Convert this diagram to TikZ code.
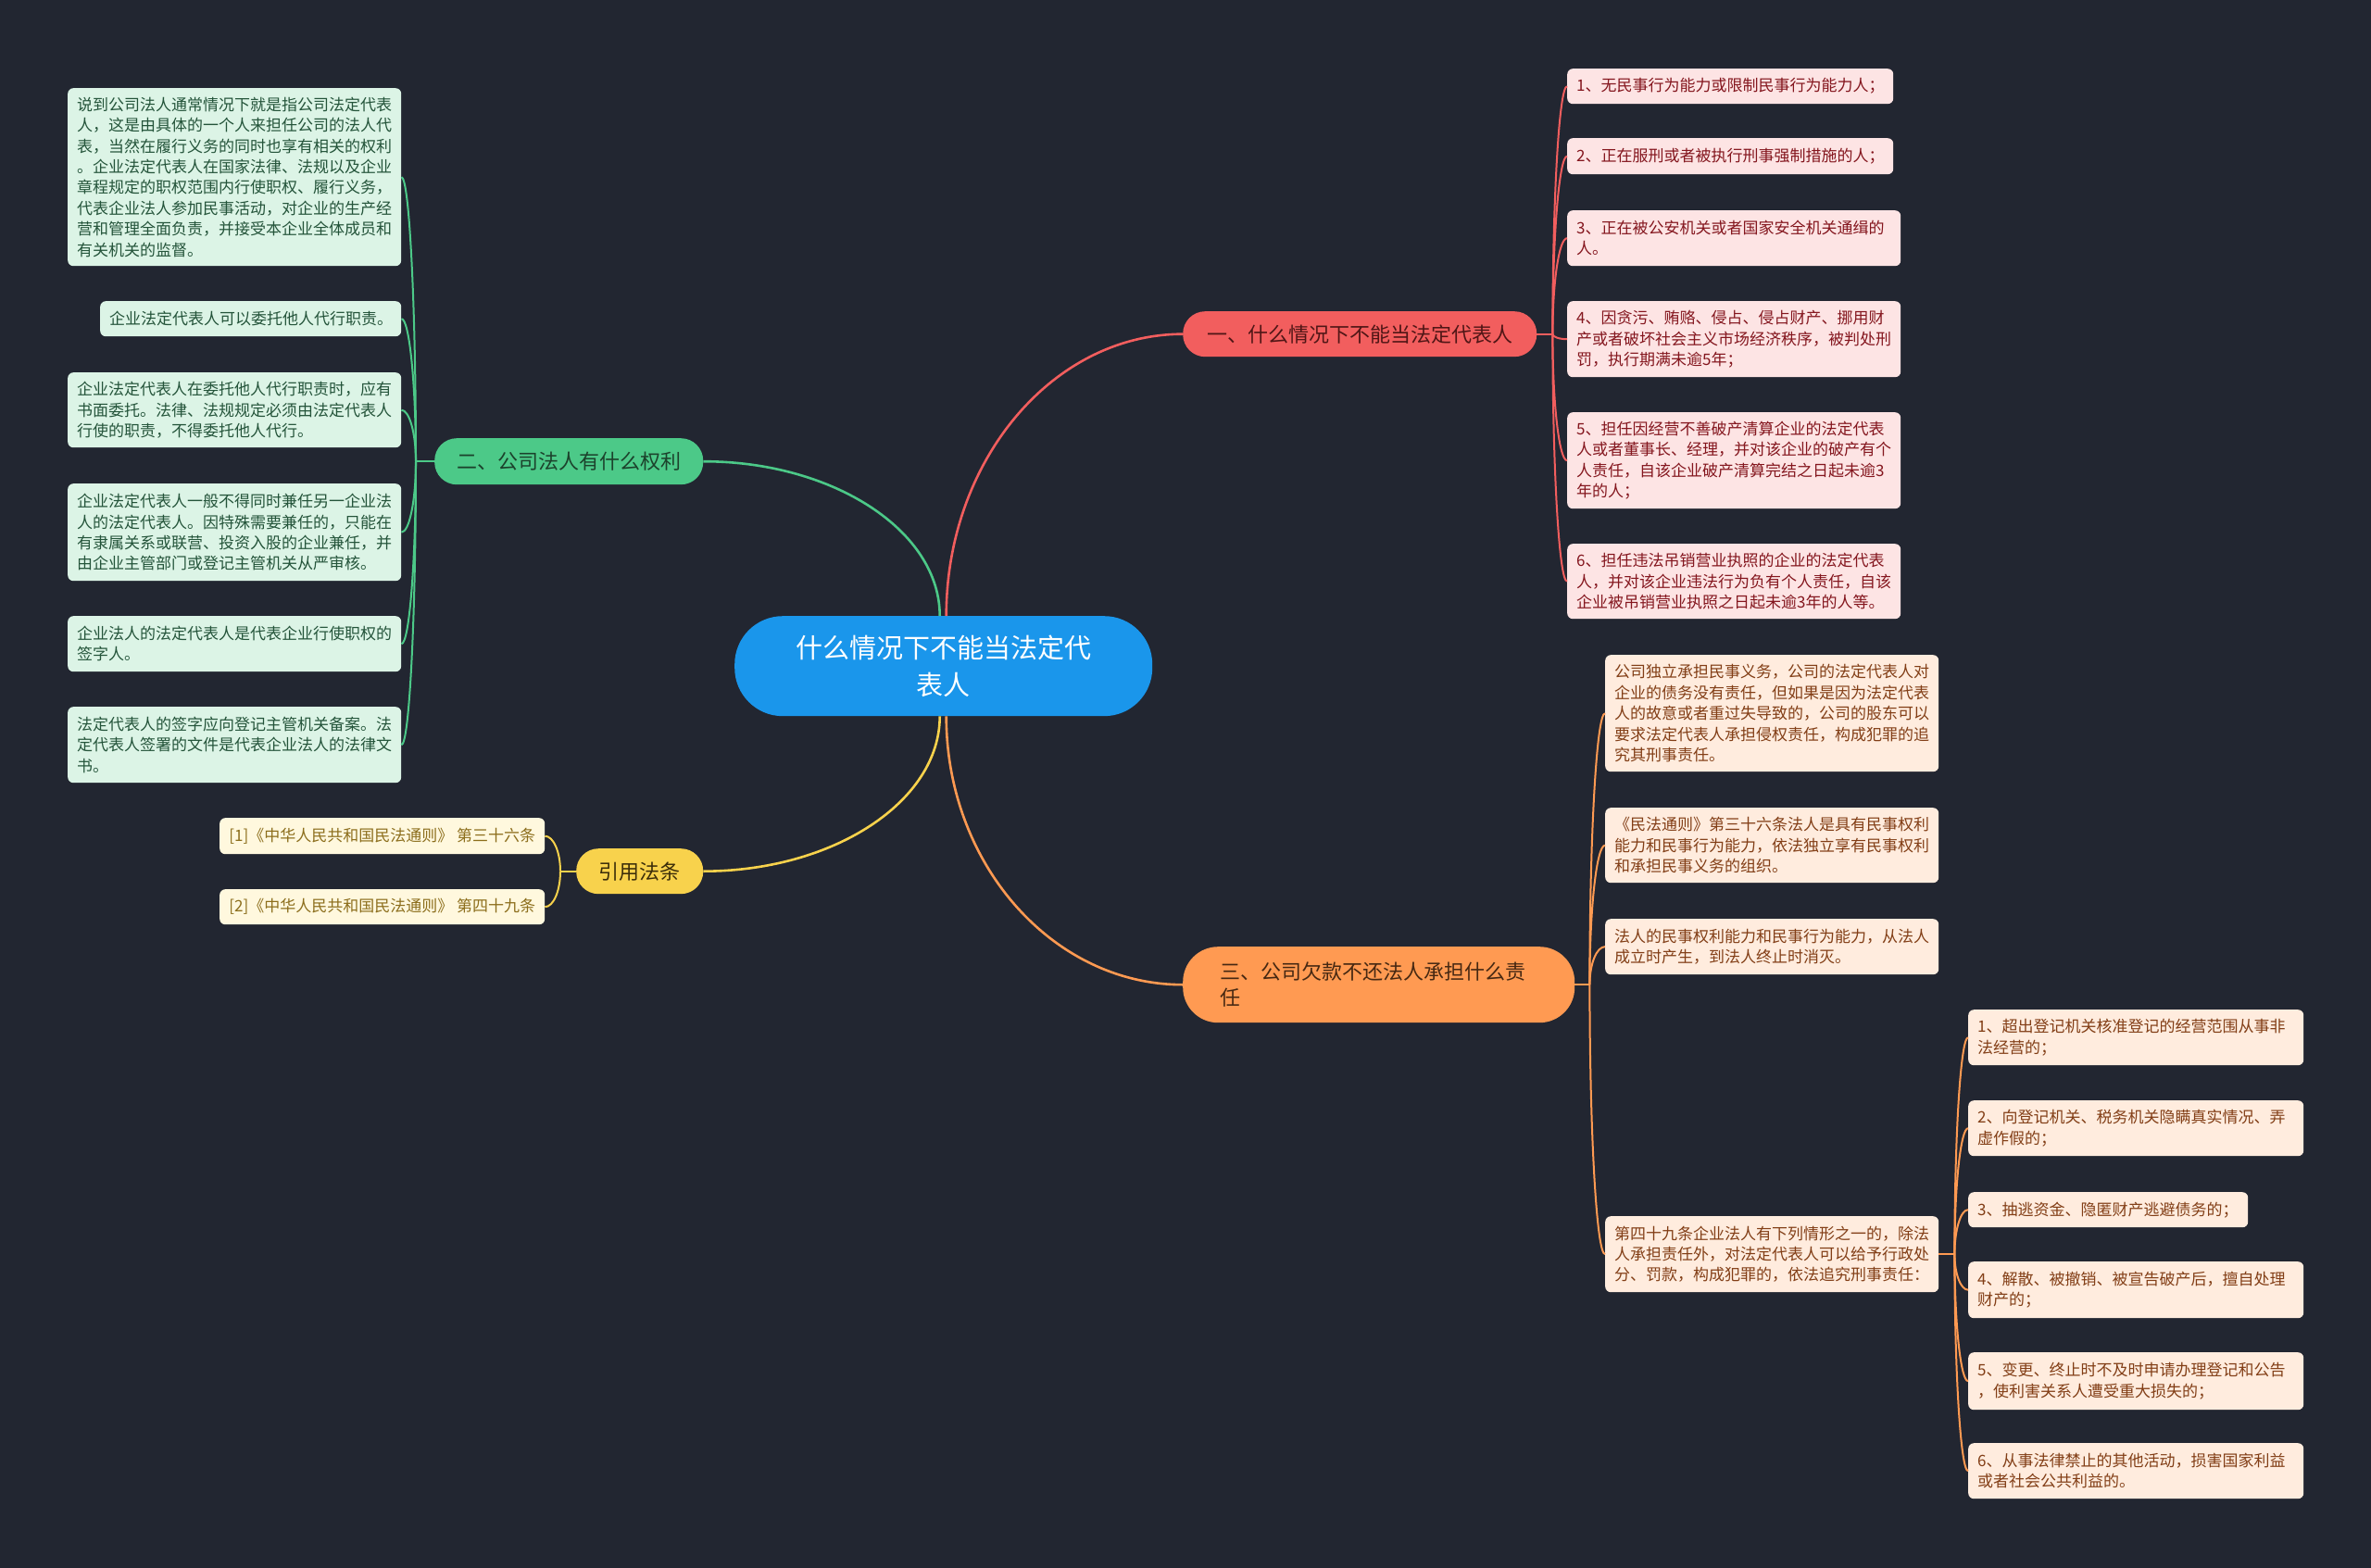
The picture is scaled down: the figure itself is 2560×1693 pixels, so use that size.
\documentclass[tikz,border=0pt]{standalone}
\usepackage{fontspec}
\setmainfont{Noto Sans CJK SC}
\usetikzlibrary{calc}
\definecolor{bg}{RGB}{34,38,49}
\definecolor{cblue}{RGB}{26,150,235}
\definecolor{cgreen}{RGB}{76,201,136}
\definecolor{gfill}{RGB}{220,244,230}
\definecolor{gtext}{RGB}{36,84,58}
\definecolor{cred}{RGB}{242,94,94}
\definecolor{rfill}{RGB}{253,228,228}
\definecolor{rtext}{RGB}{132,22,30}
\definecolor{cyellow}{RGB}{248,210,76}
\definecolor{yfill}{RGB}{255,248,222}
\definecolor{ytext}{RGB}{140,110,28}
\definecolor{corange}{RGB}{255,154,82}
\definecolor{ofill}{RGB}{255,236,222}
\definecolor{otext}{RGB}{130,62,22}
\tikzset{
  leafbox/.style={rounded corners=6pt, anchor=north west, inner xsep=10pt, inner ysep=0pt, align=left, font=\fontsize{17}{22.4}\selectfont},
  gleaf/.style={leafbox, fill=gfill, text=gtext},
  rleaf/.style={leafbox, fill=rfill, text=rtext},
  yleaf/.style={leafbox, fill=yfill, text=ytext},
  oleaf/.style={leafbox, fill=ofill, text=otext},
  branchbox/.style={rounded corners=24pt, anchor=north west, inner sep=0pt, align=center, font=\fontsize{22}{28}\selectfont},
  gline/.style={draw=cgreen, line width=2pt},
  rline/.style={draw=cred, line width=2pt},
  yline/.style={draw=cyellow, line width=2pt},
  oline/.style={draw=corange, line width=2pt},
  arcto/.style={to path={.. controls ($(\tikztostart)!0.55!(\tikztostart |- \tikztotarget)$) and ($(\tikztotarget)!0.55!(\tikztostart |- \tikztotarget)$) .. (\tikztotarget)}},
}
\begin{document}
\begin{tikzpicture}[x=1pt,y=-1pt]
\fill[bg] (0,0) rectangle (2560,1693);
\useasboundingbox (0,0) rectangle (2560,1693);

% center
\node[rounded corners=52pt, fill=cblue, text=white, anchor=north west, minimum width=451pt, minimum height=108pt, inner sep=0pt, align=center, font=\fontsize{29}{40}\selectfont] (c) at (793,665) {什么情况下不能当法定代\\表人};

% branches
\node[branchbox, fill=cred, text={rgb,255:red,80;green,22;blue,22}, minimum width=382pt, minimum height=49pt] (b1) at (1277,336) {一、什么情况下不能当法定代表人};
\node[branchbox, fill=cgreen, text={rgb,255:red,28;green,66;blue,44}, minimum width=290pt, minimum height=50pt] (b2) at (469,473) {二、公司法人有什么权利};
\node[branchbox, fill=cyellow, text={rgb,255:red,60;green,46;blue,10}, minimum width=137pt, minimum height=49pt] (b4) at (622,916) {引用法条};
\node[branchbox, rounded corners=38pt, fill=corange, text={rgb,255:red,70;green,40;blue,18}, minimum width=423pt, minimum height=82pt, text width=343pt, align=left] (b3) at (1277,1022) {三、公司欠款不还法人承担什么责\\任};

% green leaves
\node[gleaf, text width=340pt, minimum height=192pt] (g1) at (73,95) {说到公司法人通常情况下就是指公司法定代表\\人，这是由具体的一个人来担任公司的法人代\\表，当然在履行义务的同时也享有相关的权利\\。企业法定代表人在国家法律、法规以及企业\\章程规定的职权范围内行使职权、履行义务，\\代表企业法人参加民事活动，对企业的生产经\\营和管理全面负责，并接受本企业全体成员和\\有关机关的监督。};
\node[gleaf, text width=305pt, minimum height=38pt] (g2) at (108,325) {企业法定代表人可以委托他人代行职责。};
\node[gleaf, text width=340pt, minimum height=81pt] (g3) at (73,402) {企业法定代表人在委托他人代行职责时，应有\\书面委托。法律、法规规定必须由法定代表人\\行使的职责，不得委托他人代行。};
\node[gleaf, text width=340pt, minimum height=105pt] (g4) at (73,522) {企业法定代表人一般不得同时兼任另一企业法\\人的法定代表人。因特殊需要兼任的，只能在\\有隶属关系或联营、投资入股的企业兼任，并\\由企业主管部门或登记主管机关从严审核。};
\node[gleaf, text width=340pt, minimum height=60pt] (g5) at (73,665) {企业法人的法定代表人是代表企业行使职权的\\签字人。};
\node[gleaf, text width=340pt, minimum height=82pt] (g6) at (73,763) {法定代表人的签字应向登记主管机关备案。法\\定代表人签署的文件是代表企业法人的法律文\\书。};

% red leaves
\node[rleaf, text width=332pt, minimum height=38pt] (r1) at (1692,74) {1、无民事行为能力或限制民事行为能力人；};
\node[rleaf, text width=332pt, minimum height=39pt] (r2) at (1692,149) {2、正在服刑或者被执行刑事强制措施的人；};
\node[rleaf, text width=340pt, minimum height=60pt] (r3) at (1692,227) {3、正在被公安机关或者国家安全机关通缉的\\人。};
\node[rleaf, text width=340pt, minimum height=82pt] (r4) at (1692,325) {4、因贪污、贿赂、侵占、侵占财产、挪用财\\产或者破坏社会主义市场经济秩序，被判处刑\\罚，执行期满未逾5年；};
\node[rleaf, text width=340pt, minimum height=104pt] (r5) at (1692,445) {5、担任因经营不善破产清算企业的法定代表\\人或者董事长、经理，并对该企业的破产有个\\人责任，自该企业破产清算完结之日起未逾3\\年的人；};
\node[rleaf, text width=340pt, minimum height=81pt] (r6) at (1692,587) {6、担任违法吊销营业执照的企业的法定代表\\人，并对该企业违法行为负有个人责任，自该\\企业被吊销营业执照之日起未逾3年的人等。};

% yellow leaves
\node[yleaf, minimum width=351pt, minimum height=39pt] (y1) at (237,883) {[1]《中华人民共和国民法通则》 第三十六条};
\node[yleaf, minimum width=351pt, minimum height=38pt] (y2) at (237,960) {[2]《中华人民共和国民法通则》 第四十九条};

% orange leaves
\node[oleaf, text width=340pt, minimum height=126pt] (o1) at (1733,707) {公司独立承担民事义务，公司的法定代表人对\\企业的债务没有责任，但如果是因为法定代表\\人的故意或者重过失导致的，公司的股东可以\\要求法定代表人承担侵权责任，构成犯罪的追\\究其刑事责任。};
\node[oleaf, text width=340pt, minimum height=81pt] (o2) at (1733,872) {《民法通则》第三十六条法人是具有民事权利\\能力和民事行为能力，依法独立享有民事权利\\和承担民事义务的组织。};
\node[oleaf, text width=340pt, minimum height=60pt] (o3) at (1733,992) {法人的民事权利能力和民事行为能力，从法人\\成立时产生，到法人终止时消灭。};
\node[oleaf, text width=340pt, minimum height=82pt] (o4) at (1733,1313) {第四十九条企业法人有下列情形之一的，除法\\人承担责任外，对法定代表人可以给予行政处\\分、罚款，构成犯罪的，依法追究刑事责任：};

\node[oleaf, text width=342pt, minimum height=60pt] (s1) at (2125,1090) {1、超出登记机关核准登记的经营范围从事非\\法经营的；};
\node[oleaf, text width=342pt, minimum height=60pt] (s2) at (2125,1188) {2、向登记机关、税务机关隐瞒真实情况、弄\\虚作假的；};
\node[oleaf, text width=282pt, minimum height=38pt] (s3) at (2125,1287) {3、抽逃资金、隐匿财产逃避债务的；};
\node[oleaf, text width=342pt, minimum height=61pt] (s4) at (2125,1362) {4、解散、被撤销、被宣告破产后，擅自处理\\财产的；};
\node[oleaf, text width=342pt, minimum height=62pt] (s5) at (2125,1460) {5、变更、终止时不及时申请办理登记和公告\\，使利害关系人遭受重大损失的；};
\node[oleaf, text width=342pt, minimum height=60pt] (s6) at (2125,1558) {6、从事法律禁止的其他活动，损害国家利益\\或者社会公共利益的。};

% main connectors
\coordinate (cn1) at ($(c.north)+(-4,0)$);
\coordinate (cn2) at ($(c.north)+(3,0)$);
\coordinate (cs1) at ($(c.south)+(-4,0)$);
\coordinate (cs2) at ($(c.south)+(3,0)$);
\draw[gline, line width=2.6pt] (cn1) to[arcto] (b2.east);
\draw[rline, line width=2.6pt] (cn2) to[arcto] (b1.west);
\draw[yline, line width=2.6pt] (cs1) to[arcto] (b4.east);
\draw[oline, line width=2.6pt] (cs2) to[arcto] (b3.west);

% branch trunks
\coordinate (gt) at ($(b2.west)+(-20,0)$);
\draw[gline] (b2.west) -- (gt);
\foreach \n in {g1,g2,g3,g4,g5,g6} \draw[gline] (gt) to[arcto] (\n.east);
\coordinate (rt) at ($(b1.east)+(17,0)$);
\draw[rline] (b1.east) -- (rt);
\foreach \n in {r1,r2,r3,r4,r5,r6} \draw[rline] (rt) to[arcto] (\n.west);
\coordinate (yt) at ($(b4.west)+(-17,0)$);
\draw[yline] (b4.west) -- (yt);
\foreach \n in {y1,y2} \draw[yline] (yt) to[arcto] (\n.east);
\coordinate (ot) at ($(b3.east)+(16,0)$);
\draw[oline] (b3.east) -- (ot);
\foreach \n in {o1,o2,o3,o4} \draw[oline] (ot) to[arcto] (\n.west);
\coordinate (st) at ($(o4.east)+(17,0)$);
\draw[oline] (o4.east) -- (st);
\foreach \n in {s1,s2,s3,s4,s5,s6} \draw[oline] (st) to[arcto] (\n.west);
\end{tikzpicture}
\end{document}
